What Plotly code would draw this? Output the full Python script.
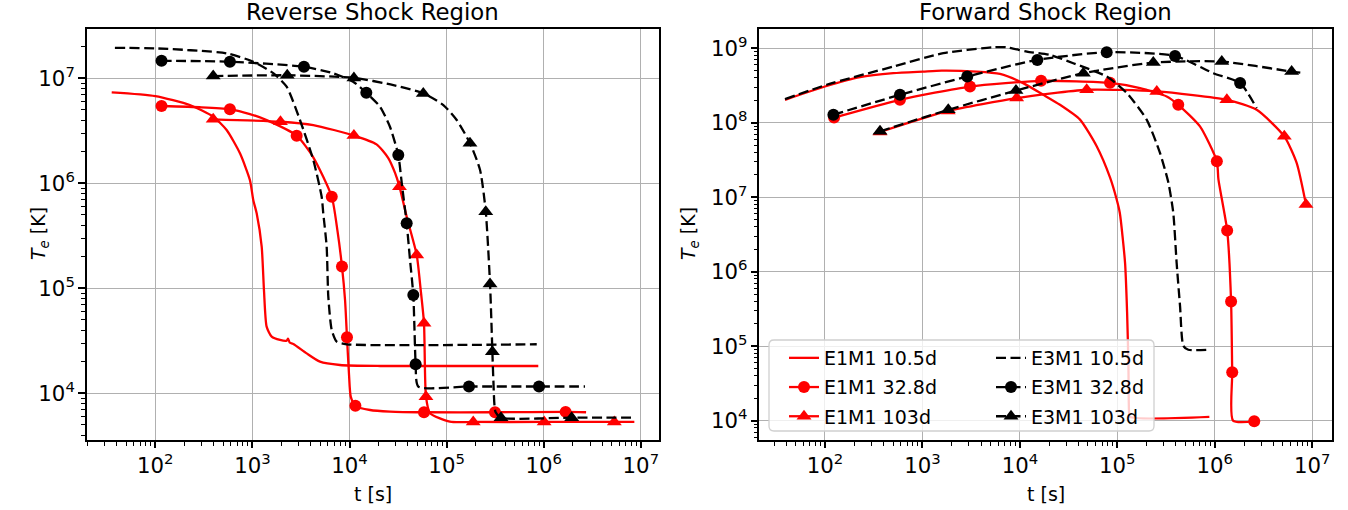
import plotly.graph_objects as go

# ---------------- Reverse Shock Region ----------------
# E1M1 10.5d (line only)
rs_e1_a_t = [35.6, 100, 227, 395, 543, 745, 944, 1021, 1107, 1247, 1316, 1402, 1580, 1925, 2250, 2330, 2420, 2638, 3622, 4964, 7980, 2.06e4, 8.79e5]
rs_e1_a_T = [7.36e6, 6.78e6, 5.57e6, 4.31e6, 3.22e6, 1.93e6, 1.07e6, 6.93e5, 5.18e5, 2.49e5, 9.64e4, 4.31e4, 3.46e4, 3.22e4, 3.17e4, 3.32e4, 3.05e4, 2.95e4, 2.40e4, 2.00e4, 1.86e4, 1.82e4, 1.82e4]
# E1M1 32.8d
rs_e1_b_t = [300, 944, 1403, 4236, 7520, 9000, 9890, 1.03e4, 1.63e4, 2.61e4, 2.73e6]
rs_e1_b_T = [5.3e6, 4.57e6, 4.0e6, 1.77e6, 3.52e5, 7.74e4, 1.5e4, 9.29e3, 6.93e3, 6.7e3, 6.6e3]
rs_e1_b_mt = [116, 587, 2858, 6565, 8370, 9420, 1.15e4, 5.85e4, 3.15e5, 1.68e6]
rs_e1_b_mT = [5.45e6, 5.07e6, 2.84e6, 7.45e5, 1.61e5, 3.41e4, 7.6e3, 6.6e3, 6.6e3, 6.65e3]
# E1M1 103d
rs_e1_c_t = [4236, 1.9e4, 2.5e4, 2.95e4, 3.88e4, 5.41e4, 6.75e4, 1.08e5, 8.57e6]
rs_e1_c_T = [3.59e6, 2.35e6, 1.75e6, 1.25e6, 4.81e5, 9.64e4, 6.46e3, 5.37e3, 5.33e3]
rs_e1_c_mt = [395, 1946, 1.11e4, 3.27e4, 4.92e4, 5.85e4, 6.13e4, 1.88e5, 1.01e6, 5.33e6]
rs_e1_c_mT = [4.07e6, 3.86e6, 2.85e6, 9.29e5, 2.08e5, 4.64e4, 9.29e3, 5.33e3, 5.33e3, 5.33e3]
# E3M1 10.5d (line only)
rs_e3_a_t = [38.4, 100, 543, 1021, 1640, 2253, 3090, 4236, 5170, 5370, 5820, 6050, 6560, 7390, 9350, 8.47e5]
rs_e3_a_T = [1.95e7, 1.93e7, 1.73e7, 1.44e7, 1.12e7, 8.32e6, 4.01e6, 1.67e6, 7.45e5, 5.18e5, 2.49e5, 8.32e4, 4.01e4, 3.10e4, 2.93e4, 2.93e4]
# E3M1 32.8d
rs_e3_b_t = [6760, 1.09e4, 2.06e4, 2.61e4, 3.47e4, 4.20e4, 4.67e4, 5.11e4, 2.66e6]
rs_e3_b_T = [1.12e7, 9.29e6, 5.37e6, 3.46e6, 9.64e5, 1.86e5, 4.01e4, 1.16e4, 1.16e4]
rs_e3_b_mt = [116, 587, 3396, 1.49e4, 3.18e4, 3.88e4, 4.54e4, 4.80e4, 1.70e5, 8.95e5]
rs_e3_b_mT = [1.47e7, 1.44e7, 1.29e7, 7.29e6, 1.86e6, 4.16e5, 8.63e4, 1.89e4, 1.16e4, 1.16e4]
# E3M1 103d
rs_e3_c_t = [2.83e4, 9.25e4, 1.27e5, 2.21e5, 3.03e5, 3.19e5, 8.37e6]
rs_e3_c_T = [8.63e6, 5.57e6, 4.01e6, 1.34e6, 1.34e4, 6.64e3, 5.86e3]
rs_e3_c_mt = [395, 2285, 1.11e4, 5.75e4, 1.74e5, 2.53e5, 2.80e5, 2.96e5, 3.63e5, 1.94e6]
rs_e3_c_mT = [1.05e7, 1.07e7, 1.01e7, 7.19e6, 2.41e6, 5.37e5, 1.10e5, 2.49e4, 5.86e3, 5.86e3]

# ---------------- Forward Shock Region ----------------
fs_e1_a_t = [38.9, 100, 229, 502, 1014, 1577, 3609, 6250, 1.08e4, 1.74e4, 2.58e4, 4.14e4, 6.14e4, 8.41e4, 9.85e4, 1.06e5, 1.20e5, 1.26e5, 1.30e5, 1.32e5, 1.35e5, 8.80e5]
fs_e1_a_T = [2.03e8, 3.06e8, 4.09e8, 4.62e8, 4.86e8, 5.01e8, 4.86e8, 4.53e8, 3.40e8, 2.37e8, 1.74e8, 1.10e8, 4.82e7, 1.84e7, 9.31e6, 6.18e6, 1.32e6, 2.84e5, 5.48e4, 1.30e4, 1.12e4, 1.12e4]
fs_e1_b_t = [1.71e5, 3.21e5, 7.05e5, 1.09e6, 1.54e6]
fs_e1_b_T = [2.92e8, 2.25e8, 8.91e7, 1.73e7, 1.0e4]
fs_e1_b_mt = [124, 588, 3076, 1.65e4, 8.41e4, 4.22e5, 1.05e6, 1.34e6, 1.47e6, 1.51e6, 2.54e6]
fs_e1_b_mT = [1.17e8, 2.03e8, 3.06e8, 3.65e8, 3.43e8, 1.74e8, 3.03e7, 3.58e6, 3.98e5, 4.46e4, 9.8e3]
fs_e1_c_t = [2.69e6, 6.92e6]
fs_e1_c_T = [1.49e8, 2.89e7]
fs_e1_c_mt = [367, 1841, 9270, 4.85e4, 2.54e5, 1.33e6, 5.17e6, 8.63e6]
fs_e1_c_mT = [7.5e7, 1.44e8, 2.14e8, 2.77e8, 2.63e8, 2.03e8, 6.56e7, 7.98e6]
fs_e3_a_t = [38.9, 104, 502, 1637, 5330, 7320, 1.18e4, 2.04e4, 3.53e4, 7.78e4, 1.25e5, 2.00e5, 2.74e5, 3.34e5, 3.75e5, 4.06e5, 4.40e5, 4.76e5, 5.35e5, 8.58e5]
fs_e3_a_T = [2.07e8, 3.23e8, 5.67e8, 8.57e8, 1.03e9, 1.03e9, 9.00e8, 8.13e8, 6.29e8, 4.17e8, 2.50e8, 1.10e8, 3.93e7, 1.57e7, 6.18e6, 1.32e6, 3.47e5, 1.01e5, 8.95e4, 8.95e4]
fs_e3_b_t = [9.66e5, 2.69e6]
fs_e3_b_T = [4.62e8, 1.57e8]
fs_e3_b_mt = [122, 588, 2884, 1.51e4, 7.78e4, 3.91e5, 1.82e6]
fs_e3_b_mT = [1.28e8, 2.37e8, 4.17e8, 6.97e8, 8.84e8, 7.88e8, 3.40e8]
fs_e3_c_t = [8.43e6]
fs_e3_c_T = [4.62e8]
fs_e3_c_mt = [367, 1841, 9120, 4.48e4, 2.34e5, 1.18e6, 6.15e6]
fs_e3_c_mT = [7.66e7, 1.49e8, 2.70e8, 4.62e8, 6.41e8, 6.62e8, 4.86e8]

labels = ["E1M1 10.5d", "E1M1 32.8d", "E1M1 103d", "E3M1 10.5d", "E3M1 32.8d", "E3M1 103d"]

RED = "#ff0000"
BLACK = "#000000"
LW = 2.3
DASH = "10px,4.5px"
MS = {"circle": 12, "triangle-up": 13}
FONT = "DejaVu Sans, Arial, sans-serif"


def merge(lt, lT, mt, mT):
    pts = [(a, b, False) for a, b in zip(lt, lT)] + [(a, b, True) for a, b in zip(mt, mT)]
    pts.sort(key=lambda p: p[0])
    return [p[0] for p in pts], [p[1] for p in pts], [p[2] for p in pts]


fig = go.Figure()

panels = [
    ("x", "y", [
        (rs_e1_a_t, rs_e1_a_T, [], [], RED, "solid", None),
        (rs_e1_b_t, rs_e1_b_T, rs_e1_b_mt, rs_e1_b_mT, RED, "solid", "circle"),
        (rs_e1_c_t, rs_e1_c_T, rs_e1_c_mt, rs_e1_c_mT, RED, "solid", "triangle-up"),
        (rs_e3_a_t, rs_e3_a_T, [], [], BLACK, DASH, None),
        (rs_e3_b_t, rs_e3_b_T, rs_e3_b_mt, rs_e3_b_mT, BLACK, DASH, "circle"),
        (rs_e3_c_t, rs_e3_c_T, rs_e3_c_mt, rs_e3_c_mT, BLACK, DASH, "triangle-up"),
    ]),
    ("x2", "y2", [
        (fs_e1_a_t, fs_e1_a_T, [], [], RED, "solid", None),
        (fs_e1_b_t, fs_e1_b_T, fs_e1_b_mt, fs_e1_b_mT, RED, "solid", "circle"),
        (fs_e1_c_t, fs_e1_c_T, fs_e1_c_mt, fs_e1_c_mT, RED, "solid", "triangle-up"),
        (fs_e3_a_t, fs_e3_a_T, [], [], BLACK, DASH, None),
        (fs_e3_b_t, fs_e3_b_T, fs_e3_b_mt, fs_e3_b_mT, BLACK, DASH, "circle"),
        (fs_e3_c_t, fs_e3_c_T, fs_e3_c_mt, fs_e3_c_mT, BLACK, DASH, "triangle-up"),
    ]),
]

for pi, (xa, ya, curves) in enumerate(panels):
    for ci, (lt, lT, mt, mT, col, dash, sym) in enumerate(curves):
        t, T, ism = merge(lt, lT, mt, mT)
        show = (pi == 1)
        legend = "legend" if ci < 3 else "legend2"
        kw = dict(
            x=t, y=T, xaxis=xa, yaxis=ya, name=labels[ci],
            line=dict(color=col, width=LW, dash=dash, shape="spline", smoothing=0.6),
            showlegend=show, legend=legend, legendgroup=f"g{ci}",
            hoverinfo="skip",
        )
        if sym is None:
            kw["mode"] = "lines"
        else:
            kw["mode"] = "lines+markers"
            kw["marker"] = dict(
                symbol=sym, size=MS[sym],
                color=[col if m else "rgba(0,0,0,0)" for m in ism],
                line=dict(width=0),
            )
        fig.add_trace(go.Scatter(**kw))

# positions below are screen pixels (page body margin removed by post_script)
OFF = 0
W, H = 1348, 510
PT, PB = 29, 440          # screen y of plot top / bottom
L1, R1 = 86.7, 659.3      # screen x of left panel
L2, R2 = 759.4, 1332.0    # screen x of right panel


def px_x(s):
    return (s - OFF) / W


def px_y(s):
    return (PB - s) / (PB - PT)


axis_common = dict(
    type="log", showline=True, mirror=True, linecolor="black", linewidth=1.5,
    ticks="outside", ticklen=6.7, tickwidth=1.5, tickcolor="black",
    showgrid=True, gridcolor="#b0b0b0", gridwidth=1.3,
    dtick=1, exponentformat="power", showexponent="all",
    tickfont=dict(family=FONT, size=17, color="black"),
    minor=dict(ticks="outside", ticklen=3.8, tickwidth=1, tickcolor="black", dtick="D1", showgrid=False),
    zeroline=False, automargin=False,
)

fig.update_layout(
    width=W, height=H,
    margin=dict(l=0, r=0, t=PT - OFF, b=H - (PB - OFF)),
    plot_bgcolor="white", paper_bgcolor="white",
    font=dict(family=FONT, size=19, color="black"),
    xaxis=dict(domain=[px_x(L1), px_x(R1)], range=[1.294, 7.19], anchor="y", **axis_common),
    yaxis=dict(domain=[0, 1], range=[3.555, 7.47], anchor="x", **axis_common),
    xaxis2=dict(domain=[px_x(L2), px_x(R2)], range=[1.327, 7.203], anchor="y2", **axis_common),
    yaxis2=dict(domain=[0, 1], range=[3.74, 9.258], anchor="x2", **axis_common),
    legend=dict(x=px_x(784), y=px_y(339), xanchor="left", yanchor="top",
                bgcolor="rgba(0,0,0,0)", borderwidth=0, tracegroupgap=1.5,
                font=dict(family=FONT, size=19, color="black")),
    legend2=dict(x=px_x(991), y=px_y(339), xanchor="left", yanchor="top",
                 bgcolor="rgba(0,0,0,0)", borderwidth=0, tracegroupgap=1.5,
                 font=dict(family=FONT, size=19, color="black")),
)

# legend frame (rounded)
x0, x1 = px_x(769), px_x(1154)
y0, y1 = px_y(431), px_y(340)
rx, ry = 5 / W, 5 / (PB - PT)
path = (f"M{x0+rx},{y0} L{x1-rx},{y0} Q{x1},{y0} {x1},{y0+ry} L{x1},{y1-ry} Q{x1},{y1} {x1-rx},{y1} "
        f"L{x0+rx},{y1} Q{x0},{y1} {x0},{y1-ry} L{x0},{y0+ry} Q{x0},{y0} {x0+rx},{y0} Z")
fig.add_shape(type="path", path=path, xref="paper", yref="paper",
              fillcolor="rgba(255,255,255,0.8)", line=dict(color="#d0d0d0", width=1.3), layer="above")

ann = dict(xref="paper", yref="paper", showarrow=False, xanchor="center", yanchor="middle",
           font=dict(family=FONT, size=19, color="black"))
tfont = dict(family=FONT, size=22.8, color="black")
fig.add_annotation(text="Reverse Shock Region", x=px_x((L1 + R1) / 2), y=px_y(12), **{**ann, "font": tfont})
fig.add_annotation(text="Forward Shock Region", x=px_x((L2 + R2) / 2), y=px_y(12), **{**ann, "font": tfont})
fig.add_annotation(text="t [s]", x=px_x((L1 + R1) / 2), y=px_y(494), **ann)
fig.add_annotation(text="t [s]", x=px_x((L2 + R2) / 2), y=px_y(494), **ann)
fig.add_annotation(text="<i>T</i><sub><i>e</i></sub> [K]", x=px_x(40), y=px_y(234), textangle=-90, **ann)
fig.add_annotation(text="<i>T</i><sub><i>e</i></sub> [K]", x=px_x(690), y=px_y(234), textangle=-90, **ann)

fig.write_html("out.html", config={"displayModeBar": False},
               post_script="document.body.style.margin='0px';document.body.style.overflow='hidden';")
